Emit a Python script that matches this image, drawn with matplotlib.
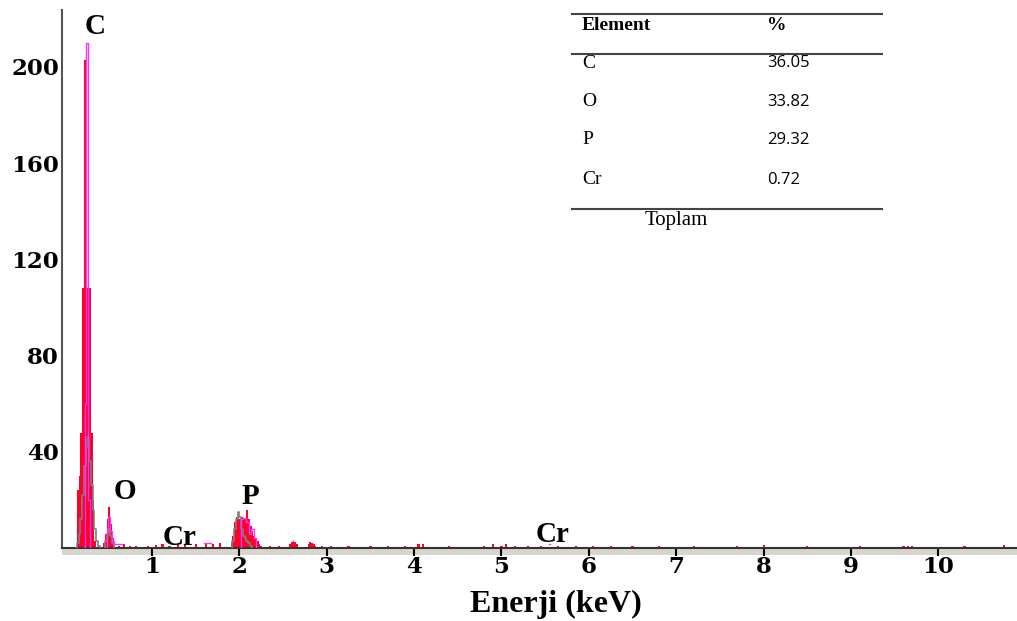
import numpy as np
import matplotlib.pyplot as plt
from matplotlib.patches import Rectangle
from matplotlib.lines import Line2D

# EDS spectrum (energy in keV, counts)
# red filled spectrum, peak regions (each region ends at zero)
red_c_e = [0.13, 0.15, 0.17, 0.19, 0.21, 0.23, 0.25, 0.27, 0.29, 0.31, 0.33, 0.35, 0.37]
red_c_c = [0, 24, 30, 48, 108, 203, 203, 108, 108, 48, 20, 3, 0]
red_o_e = [0.43, 0.45, 0.47, 0.49, 0.51, 0.53, 0.55, 0.57, 0.59]
red_o_c = [0, 2, 6, 12, 17, 10, 4, 1, 0]
red_p_e = [1.89, 1.91, 1.93, 1.95, 1.97, 1.99, 2.01, 2.03, 2.05, 2.07, 2.09,
           2.11, 2.13, 2.15, 2.17, 2.19, 2.21, 2.23, 2.25, 2.27]
red_p_c = [0, 2, 5, 11, 13, 12, 12, 13, 12, 12, 16, 12, 9, 7, 5, 4, 3, 1.5, 1, 0]
red_b_e = [2.56, 2.58, 2.60, 2.62, 2.64, 2.66, 2.68, 2.77, 2.79, 2.81, 2.83, 2.85, 2.87, 2.89]
red_b_c = [0, 1.5, 2.5, 3, 2.5, 1.5, 0, 0, 1.5, 2.5, 2, 1.5, 1, 0]

# small red counts scattered along the baseline
noise_e = [0.62, 0.68, 0.75, 0.82, 0.95, 1.05, 1.12, 1.2, 1.3, 1.38, 1.5, 1.62,
           1.7, 1.78, 2.35, 2.45, 2.95, 3.05, 3.25, 3.5, 3.7, 3.9, 4.05, 4.1,
           4.4, 4.8, 4.9, 5.0, 5.05, 5.15, 5.3, 5.45, 5.65, 5.85, 6.05, 6.25,
           6.5, 6.8, 7.2, 7.7, 8.0, 8.5, 9.1, 9.6, 9.65, 9.7, 10.3, 10.75]
noise_c = [1, 1.5, 1, 1, 1, 1.2, 1.5, 1, 1.5, 1.2, 1.5, 2,
           1.5, 2, 1, 1, 1, 1, 1, 1, 1, 1, 1.5, 1.5,
           1, 1, 1.5, 1, 1.5, 1, 1, 1, 1, 1, 1, 1,
           1, 1, 1, 1, 1.2, 1, 1, 1, 1, 1, 1, 1.2]

gray_e = [0.13, 0.15, 0.17, 0.19, 0.21, 0.23, 0.25, 0.27, 0.29, 0.31, 0.33, 0.35, 0.37, 0.39, 0.41,
          np.nan,
          0.45, 0.47, 0.49, 0.51, 0.53, 0.55, 0.57,
          np.nan,
          1.91, 1.93, 1.95, 1.97, 1.99, 2.01, 2.03, 2.05, 2.07, 2.09, 2.11, 2.13, 2.15]
gray_c = [0, 2, 6, 12, 22, 34, 42, 46, 36, 26, 16, 8, 3, 1, 0,
          np.nan,
          0, 3, 6, 8, 5, 2, 0,
          np.nan,
          0, 3, 8, 12, 15, 13, 8, 5, 4, 3, 2, 1, 0]

mag_e = [0.22, 0.24, 0.26, 0.28, 0.30, np.nan,
         0.47, 0.49, 0.51, 0.53, 0.55, 0.57, 0.60, 0.64, 0.68, np.nan,
         1.58, 1.62, 1.66, 1.70, np.nan,
         2.00, 2.03, 2.06, 2.09, 2.12, 2.15, 2.18, 2.21, np.nan,
         5.52, 5.56]
mag_c = [0, 60, 210, 20, 0, np.nan,
         0, 8, 13, 7, 3, 1.7, 1.7, 1.7, 1.7, np.nan,
         2, 2, 2, 2, np.nan,
         0, 12, 12.5, 11, 6, 8, 4, 0, np.nan,
         1.5, 1.5]

peak_labels = ['C', 'O', 'Cr', 'P', 'Cr']
peak_x = [0.35, 0.69, 1.32, 2.13, 5.58]
peak_y = [217, 23.3, 4.2, 21.6, 5.8]

xticks = [1, 2, 3, 4, 5, 6, 7, 8, 9, 10]
yticks = [40, 80, 120, 160, 200]

tab_elements = ['C', 'O', 'P', 'Cr']
tab_percent = ['36.05', '33.82', '29.32', '0.72']

serif = 'Liberation Serif'
red = '#ff0026'

fig = plt.figure(figsize=(10.17, 6.21), dpi=100)
ax = fig.add_axes([62 / 1017, 73 / 621, 1 - 62 / 1017, 538 / 621])

for e, c in [(red_c_e, red_c_c), (red_o_e, red_o_c), (red_p_e, red_p_c), (red_b_e, red_b_c)]:
    ax.fill_between(e, c, step='mid', color=red, linewidth=0, zorder=2)
ax.bar(noise_e, noise_c, width=0.025, color=red, linewidth=0, zorder=2)
ax.step(gray_e, gray_c, where='mid', color='#7f7f7f', lw=1.2, zorder=3)
ax.step(mag_e, mag_c, where='mid', color='#ff33ff', lw=1.0, zorder=4)

for lab, x, y in zip(peak_labels, peak_x, peak_y):
    ax.text(x, y, lab, ha='center', va='center', fontsize=21,
            fontweight='bold', family=serif)

ax.set_xlim(-0.03, 10.9)
ax.set_ylim(0, 223.7)
ax.set_xticks(xticks)
ax.set_xticklabels([str(t) for t in xticks])
ax.set_yticks(yticks)
ax.set_yticklabels([str(t) for t in yticks])
for lbl in ax.get_xticklabels() + ax.get_yticklabels():
    lbl.set_fontfamily('DejaVu Serif')
    lbl.set_fontweight('bold')
    lbl.set_fontsize(16.5)
ax.tick_params(axis='x', direction='out', length=6, width=1.5, pad=0)
ax.tick_params(axis='y', length=0, pad=2)

for s in ['top', 'right']:
    ax.spines[s].set_visible(False)
ax.spines['left'].set_color('#555555')
ax.spines['left'].set_linewidth(1.5)
ax.spines['bottom'].set_color('#333333')
ax.spines['bottom'].set_linewidth(1.5)

# grey band under the x axis
ax.add_patch(Rectangle((0, -0.013), 1, 0.013, transform=ax.transAxes,
                       clip_on=False, facecolor='#d8d5cd', edgecolor='none', zorder=0))

fig.text(556 / 1017, 1 - 604 / 621, 'Enerji (keV)', ha='center', va='center',
         fontsize=23, fontweight='bold', family=serif)

# composition table
def fy(py):
    return 1 - py / 621

for py in [14, 54, 209]:
    fig.add_artist(Line2D([572 / 1017, 882 / 1017], [fy(py), fy(py)],
                          color='#444444', lw=1.5))
fig.text(582 / 1017, fy(25), 'Element', ha='left', va='center',
         fontsize=14, fontweight='bold', family=serif)
fig.text(767 / 1017, fy(25), '%', ha='left', va='center',
         fontsize=14, fontweight='bold', family=serif)
row_y = [63, 102, 140, 180]
for el, pc, py in zip(tab_elements, tab_percent, row_y):
    fig.text(582 / 1017, fy(py), el, ha='left', va='center', fontsize=14, family=serif)
    fig.text(767 / 1017, fy(py), pc, ha='left', va='center', fontsize=12,
             family='Open Sans')
fig.text(645 / 1017, fy(220), 'Toplam', ha='left', va='center', fontsize=15, family=serif)

fig.savefig('out.png', dpi=100)
